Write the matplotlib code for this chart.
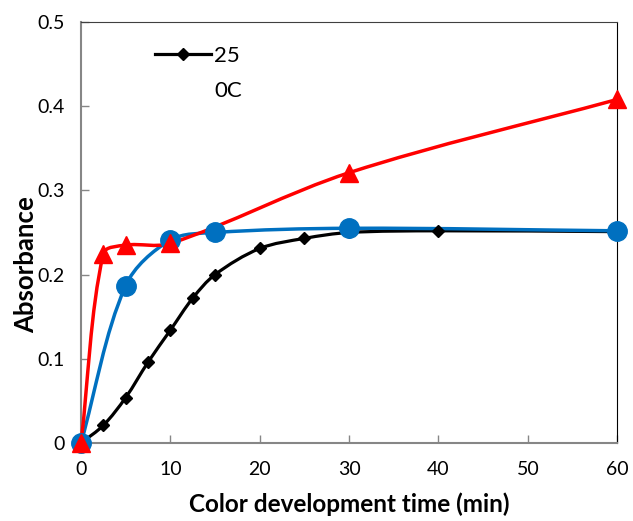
import numpy as np
import matplotlib
matplotlib.use("Agg")
import matplotlib.pyplot as plt
from matplotlib.path import Path
from matplotlib.patches import PathPatch
from matplotlib.lines import Line2D

plt.rcParams['font.family'] = ['Lato', 'DejaVu Sans']

# Data
t_black = [0, 2.5, 5, 7.5, 10, 12.5, 15, 20, 25, 30, 40, 60]
a_black = [0, 0.021, 0.054, 0.096, 0.134, 0.172, 0.200, 0.231, 0.243, 0.250, 0.252, 0.251]
t_blue = [0, 5, 10, 15, 30, 60]
a_blue = [0, 0.187, 0.241, 0.250, 0.255, 0.252]
t_red = [0, 2.5, 5, 10, 30, 60]
a_red = [0, 0.225, 0.235, 0.237, 0.321, 0.408]
legend_label = ["25", "0C"]
xticks = [0, 10, 20, 30, 40, 50, 60]
yticks = [0, 0.1, 0.2, 0.3, 0.4, 0.5]
yticklabels = ["0", "0.1", "0.2", "0.3", "0.4", "0.5"]

XMAX, YMAX = 60, 0.5


def smooth_path(x, y, sx, sy):
    """Excel-like smoothed line: cubic Bezier with length-weighted tangents."""
    pts = np.column_stack([x, y]).astype(float)
    scale = np.array([sx, sy])
    n = len(pts)

    def dist(a, b):
        return np.hypot(*((b - a) * scale))

    verts = [pts[0]]
    codes = [Path.MOVETO]
    for i in range(n - 1):
        p0 = pts[i - 1] if i > 0 else pts[i]
        p1 = pts[i]
        p2 = pts[i + 1]
        p3 = pts[i + 2] if i + 2 < n else pts[i + 1]
        d01, d12, d23 = dist(p0, p1), dist(p1, p2), dist(p2, p3)
        f1 = d12 / (d01 + d12) if d01 + d12 > 0 else 0.5
        f2 = d12 / (d12 + d23) if d12 + d23 > 0 else 0.5
        c1 = p1 + (p2 - p0) * f1 / 3.0
        c2 = p2 - (p3 - p1) * f2 / 3.0
        verts += [c1, c2, p2]
        codes += [Path.CURVE4] * 3
    return Path(verts, codes)


fig = plt.figure(figsize=(6.33, 5.21), dpi=100)
ax = fig.add_axes([0.128, 0.1497, 0.847, 0.8081])
ax_w_px, ax_h_px = 536, 421
sx, sy = ax_w_px / XMAX, ax_h_px / YMAX

series = [
    (t_black, a_black, 'black', 'D', 6, 2.3),
    (t_blue, a_blue, '#0070C0', 'o', 14, 2.5),
    (t_red, a_red, '#FF0000', '^', 13, 2.5),
]
for x, y, c, m, ms, lw in series:
    patch = PathPatch(smooth_path(x, y, sx, sy), facecolor='none', edgecolor=c,
                      lw=lw, clip_on=False, zorder=3)
    ax.add_patch(patch)
    ax.plot(x, y, linestyle='none', marker=m, color=c, markersize=ms,
            clip_on=False, zorder=4)

ax.set_xlim(0, XMAX)
ax.set_ylim(0, YMAX)
ax.set_xticks(xticks)
ax.set_yticks(yticks)
ax.set_yticklabels(yticklabels)
ax.tick_params(direction='in', length=6, width=1, color='#868686',
               labelsize=14)
ax.tick_params(axis='x', pad=13)
ax.tick_params(axis='y', pad=12)
for side in ['left', 'bottom']:
    ax.spines[side].set_color('#868686')
    ax.spines[side].set_linewidth(1.5)
ax.spines['top'].set_color('#404040')
ax.spines['right'].set_color('black')

ax.set_xlabel("Color development time (min)", fontsize=17.5, fontweight='bold',
              labelpad=10)
ax.set_ylabel("Absorbance", fontsize=18.5, fontweight='bold')
ax.yaxis.set_label_coords(-0.080, 0.423)

handle = Line2D([], [], color='black', lw=2.3, marker='D', markersize=6)
blank = Line2D([], [], color='none')
leg = ax.legend([handle, blank], legend_label, loc='upper left',
                bbox_to_anchor=(0.138, 0.944), frameon=False, fontsize=16,
                handlelength=2.5, handletextpad=0.15, borderpad=0,
                borderaxespad=0, labelspacing=0.68)

fig.savefig("out.png", dpi=100)
